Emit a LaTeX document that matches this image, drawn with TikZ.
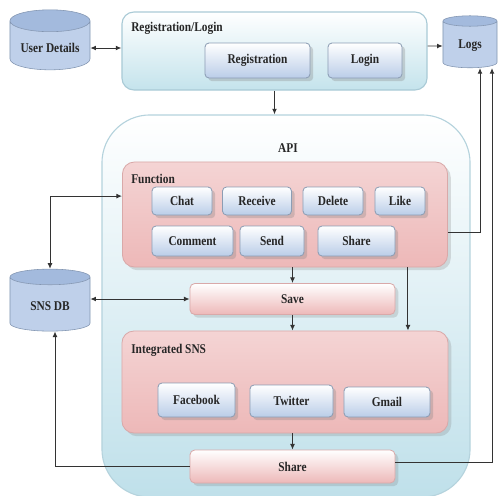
\documentclass[tikz,border=0pt]{standalone}
\usepackage{fontspec}
\setmainfont{Liberation Serif}[FakeStretch=0.85]
\usetikzlibrary{shapes.geometric}
\usetikzlibrary{arrows.meta}
\usetikzlibrary{shadows}

\definecolor{apiline}{HTML}{B5D3DD}
\definecolor{apibot}{HTML}{BFE0EA}
\definecolor{outerline}{HTML}{A9CAD6}
\definecolor{outerbot}{HTML}{C4E3EC}
\definecolor{btnline}{HTML}{8C9DB4}
\definecolor{btnbot}{HTML}{BACDE8}
\definecolor{pinkline}{HTML}{D9A9A9}
\definecolor{pinktop}{HTML}{F4D4D4}
\definecolor{pinkbot}{HTML}{EDB8B8}
\definecolor{dbbody}{HTML}{BFD0EA}
\definecolor{dbend}{HTML}{A3BADD}

\begin{document}
\begin{tikzpicture}[x=0.025cm, y=-0.025cm, >={Latex[length=4pt,width=3.5pt]},
            txt/.style={font=\bfseries\fontsize{9.5}{11}\selectfont, text=black!85},
            title/.style={txt, inner sep=0pt},
            apibox/.style={rounded corners=1.2cm, draw=apiline, line width=0.8pt, top color=white, bottom color=apibot},
            outerbox/.style={rounded corners=0.3cm, draw=outerline, line width=0.8pt, top color=white, bottom color=outerbot},
            pinkbox/.style={rounded corners=0.3cm, draw=pinkline, line width=0.6pt, top color=pinktop, middle color=pinktop!35, bottom color=pinkbot, drop shadow={opacity=0.25}},
            barbox/.style={txt, rounded corners=0.12cm, draw=pinkline, line width=0.6pt, top color=white, bottom color=pinkbot, minimum width=5.125cm, drop shadow={opacity=0.25}},
            btn/.style={txt, rounded corners=0.1cm, draw=btnline, line width=0.6pt, top color=white, bottom color=btnbot, drop shadow={opacity=0.3}},
            db/.style={txt, cylinder, shape border rotate=90, aspect=0.32, draw=dbend!80!black, cylinder uses custom fill, cylinder body fill=dbbody, cylinder end fill=dbend},
            link/.style={draw=black!80, line width=0.7pt}
        ]
            \useasboundingbox (0,0) rectangle (500,495);
            \clip (0,0) rectangle (500,495);

            % databases
            \node[db, minimum width=2cm, minimum height=1.5cm] (user) at (50,48) {User Details};
            \node[db, minimum width=1.35cm, minimum height=1.3cm] (logs) at (470,46) {Logs};
            \node[db, minimum width=2cm, minimum height=1.55cm] (snsdb) at (50,306) {SNS DB};

            % registration / login
            \node[outerbox, minimum width=7.625cm, minimum height=1.95cm] (reg) at (274.5,51) {};
            \node[title, anchor=west] (reglbl) at (131,28) {Registration/Login};
            \node[btn, minimum width=2.625cm, minimum height=0.875cm] (regbtn) at (257.5,60.5) {Registration};
            \node[btn, minimum width=1.85cm, minimum height=0.875cm] (login) at (365,60.5) {Login};

            % api
            \node[apibox, minimum width=9.2cm, minimum height=9.55cm] (api) at (286,306) {};
            \node[title] (apilbl) at (288,148) {API};

            % function
            \node[pinkbox, minimum width=8.125cm, minimum height=2.625cm] (func) at (285,214.5) {};
            \node[title, anchor=west] (funclbl) at (131,179) {Function};
            \foreach \name/\x/\w in {Chat/182/1.5, Receive/257/1.725, Delete/333/1.5, Like/400/1.25}{
                \node[btn, minimum width=\w cm, minimum height=0.7cm] (\name) at (\x,201) {\name};
            }
            \node[btn, minimum width=2.025cm, minimum height=0.75cm] (comment) at (192.5,241) {Comment};
            \node[btn, minimum width=1.6cm, minimum height=0.75cm] (send) at (272,241) {Send};
            \node[btn, minimum width=1.925cm, minimum height=0.75cm] (sharebtn) at (356.5,241) {Share};

            % save
            \node[barbox, minimum height=0.775cm] (save) at (292.5,299) {Save};

            % integrated sns
            \node[pinkbox, minimum width=8.15cm, minimum height=2.55cm] (sns) at (285,382) {};
            \node[title, anchor=west] (snslbl) at (131,350) {Integrated SNS};
            \node[btn, minimum width=1.925cm, minimum height=0.85cm] (facebook) at (196.5,400) {Facebook};
            \node[btn, minimum width=2.075cm, minimum height=0.8cm] (twitter) at (291.5,401) {Twitter};
            \node[btn, minimum width=2.15cm, minimum height=0.75cm] (gmail) at (387,402) {Gmail};

            % share
            \node[barbox, minimum height=0.825cm] (share) at (292.5,466.5) {Share};

            % connectors
            \draw[link, <->] (user.east) -- (reg.west |- user.east);
            \draw[link, ->] (reg.east |- logs) -- (logs.west);
            \draw[link, ->] (reg.south) -- (reg.south |- api.north);
            \draw[link, <->] (snsdb.north) |- ([yshift=0.46cm]func.west);
            \draw[link, <->] (snsdb.east |- save) -- (save.west);
            \draw[link, ->] (save.north |- func.south) -- (save.north);
            \draw[link, ->] (save.south) -- (save.south |- sns.north);
            \draw[link, ->] ([xshift=-1cm]func.south east) -- ([xshift=-1cm]func.south east |- sns.north);
            \draw[link, ->] (share.north |- sns.south) -- (share.north);
            \draw[link, ->] (share.west) -| ([xshift=0.125cm]snsdb.south);
            \draw[link, ->] ([yshift=-0.44cm]func.east) -| ([xshift=0.25cm]logs.south);
            \draw[link, ->] ([yshift=0.1cm]share.east) -| ([xshift=0.55cm]logs.south);

        \end{tikzpicture}
\end{document}
